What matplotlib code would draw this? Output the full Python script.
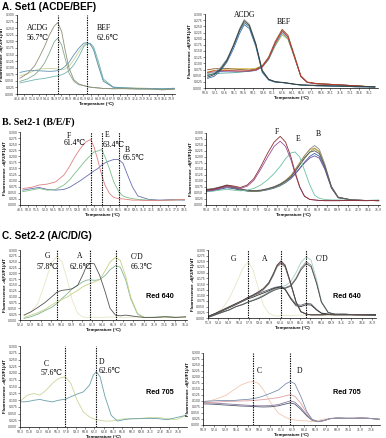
import numpy as np
import matplotlib
matplotlib.use("Agg")
import matplotlib.pyplot as plt

# ---------------- data ----------------
# Panel A (Set1 ACDE/BEF), left: representative curves
tA_left = [49, 50.5, 52, 53, 54, 55, 56, 56.7, 57.5, 58.2, 59, 60, 61, 62, 62.6,
           63.3, 64, 65, 66, 68, 70, 73, 76, 78, 80.5]
aL_acdg1 = [0.060, 0.077, 0.107, 0.142, 0.180, 0.224, 0.258, 0.271, 0.237, 0.168, 0.098, 0.054, 0.038,
            0.032, 0.029, 0.026, 0.025, 0.023, 0.021, 0.020, 0.021, 0.019, 0.019, 0.016, 0.019]
aL_acdg2 = [0.048, 0.057, 0.073, 0.092, 0.117, 0.155, 0.199, 0.212, 0.186, 0.136, 0.079, 0.048, 0.035,
            0.032, 0.029, 0.026, 0.024, 0.023, 0.021, 0.020, 0.020, 0.019, 0.018, 0.016, 0.018]
aL_bef1 = [0.082, 0.088, 0.089, 0.088, 0.087, 0.086, 0.087, 0.089, 0.095, 0.105, 0.120, 0.149, 0.174,
           0.193, 0.195, 0.190, 0.168, 0.105, 0.048, 0.026, 0.023, 0.021, 0.020, 0.019, 0.021]
aL_bef2 = [0.042, 0.048, 0.054, 0.057, 0.059, 0.063, 0.067, 0.069, 0.073, 0.079, 0.089, 0.111, 0.142,
           0.180, 0.190, 0.193, 0.180, 0.123, 0.057, 0.026, 0.024, 0.021, 0.021, 0.020, 0.022]
aL_bef3 = [0.069, 0.077, 0.089, 0.095, 0.096, 0.097, 0.096, 0.095, 0.092, 0.095, 0.105, 0.130, 0.161,
           0.186, 0.193, 0.189, 0.170, 0.111, 0.052, 0.025, 0.023, 0.023, 0.021, 0.020, 0.021]
aL_tm = [56.7, 62.6]

# Panel A, right: all replicates
tA_right = [51, 52, 53, 54, 55, 56, 56.7, 57.5, 58.5, 59.5, 60.5, 61.5, 62.6, 63.5, 64.5,
            65.5, 66.5, 68, 70, 72, 74, 77]
aR_acdg1 = [0.050, 0.058, 0.078, 0.114, 0.168, 0.233, 0.265, 0.249, 0.175, 0.067, 0.034, 0.024, 0.022,
            0.019, 0.015, 0.012, 0.011, 0.009, 0.008, 0.007, 0.005, 0.004]
aR_acdg2 = [0.044, 0.054, 0.074, 0.110, 0.171, 0.238, 0.273, 0.254, 0.179, 0.071, 0.035, 0.026, 0.023,
            0.020, 0.016, 0.013, 0.012, 0.011, 0.009, 0.008, 0.007, 0.005]
aR_acdg3 = [0.058, 0.065, 0.083, 0.117, 0.175, 0.242, 0.278, 0.260, 0.182, 0.074, 0.036, 0.026, 0.022,
            0.019, 0.015, 0.012, 0.011, 0.009, 0.008, 0.007, 0.005, 0.004]
aR_acdg4 = [0.039, 0.047, 0.069, 0.104, 0.157, 0.222, 0.257, 0.241, 0.168, 0.063, 0.032, 0.024, 0.022,
            0.019, 0.015, 0.012, 0.011, 0.009, 0.008, 0.007, 0.005, 0.004]
aR_bef1 = [0.063, 0.070, 0.071, 0.071, 0.070, 0.069, 0.069, 0.070, 0.074, 0.087, 0.121, 0.182, 0.233,
           0.208, 0.128, 0.047, 0.023, 0.017, 0.015, 0.012, 0.009, 0.004]
aR_bef2 = [0.074, 0.078, 0.079, 0.079, 0.077, 0.075, 0.074, 0.073, 0.077, 0.090, 0.126, 0.188, 0.238,
           0.214, 0.133, 0.050, 0.024, 0.018, 0.015, 0.012, 0.009, 0.004]
aR_bef3 = [0.054, 0.058, 0.060, 0.061, 0.062, 0.064, 0.066, 0.068, 0.072, 0.084, 0.115, 0.172, 0.222,
           0.200, 0.124, 0.047, 0.023, 0.017, 0.015, 0.012, 0.009, 0.004]
aR_bef4 = [0.067, 0.070, 0.073, 0.076, 0.078, 0.079, 0.079, 0.078, 0.080, 0.090, 0.118, 0.170, 0.215,
           0.197, 0.125, 0.048, 0.024, 0.018, 0.015, 0.012, 0.009, 0.004]
aR_bef5 = [0.060, 0.065, 0.067, 0.068, 0.068, 0.068, 0.068, 0.068, 0.071, 0.085, 0.120, 0.180, 0.229,
           0.206, 0.128, 0.046, 0.022, 0.017, 0.015, 0.012, 0.009, 0.004]

# Panel B (Set2-1 B/E/F), left
tB_left = [49, 50.5, 52, 53.5, 55, 56.5, 57.5, 58.5, 59.5, 60.5, 61.4, 62, 62.7, 63.4, 64,
           64.8, 65.6, 66.5, 67.3, 68, 69, 70, 72, 74, 76, 78.5]
bL_f = [0.068, 0.072, 0.082, 0.086, 0.095, 0.123, 0.157, 0.198, 0.232, 0.259, 0.269, 0.239, 0.184,
        0.123, 0.082, 0.048, 0.031, 0.026, 0.025, 0.023, 0.020, 0.020, 0.018, 0.019, 0.020, 0.023]
bL_e = [0.055, 0.061, 0.068, 0.061, 0.064, 0.082, 0.102, 0.130, 0.157, 0.184, 0.205, 0.218, 0.222,
        0.228, 0.198, 0.150, 0.095, 0.055, 0.037, 0.031, 0.026, 0.023, 0.020, 0.019, 0.020, 0.022]
bL_b = [0.061, 0.067, 0.072, 0.064, 0.061, 0.064, 0.072, 0.086, 0.100, 0.116, 0.130, 0.140, 0.150,
        0.164, 0.173, 0.181, 0.187, 0.187, 0.171, 0.130, 0.075, 0.037, 0.023, 0.020, 0.022, 0.020]
bL_tm = [61.4, 63.4, 66.5]

# Panel B, right
tB_right = [50.5, 51.5, 52.5, 53.5, 54.5, 55.5, 56.5, 57.5, 58.5, 59.5, 60.5, 61.4, 62.2, 63, 63.6,
            64.3, 65, 65.8, 66.5, 67.2, 68, 69, 70, 72, 74, 76]
bR_f1 = [0.062, 0.066, 0.073, 0.083, 0.079, 0.073, 0.083, 0.110, 0.159, 0.214, 0.262, 0.286, 0.262,
         0.200, 0.138, 0.076, 0.037, 0.023, 0.021, 0.019, 0.018, 0.018, 0.018, 0.019, 0.018, 0.019]
bR_f2 = [0.058, 0.062, 0.069, 0.079, 0.075, 0.069, 0.078, 0.103, 0.148, 0.198, 0.244, 0.266, 0.244,
         0.188, 0.131, 0.073, 0.036, 0.023, 0.021, 0.019, 0.018, 0.018, 0.018, 0.019, 0.018, 0.019]
bR_e = [0.055, 0.058, 0.062, 0.065, 0.062, 0.059, 0.062, 0.069, 0.083, 0.104, 0.131, 0.161, 0.193,
        0.217, 0.221, 0.200, 0.145, 0.083, 0.041, 0.028, 0.023, 0.021, 0.021, 0.019, 0.019, 0.021]
bR_b1 = [0.062, 0.066, 0.073, 0.079, 0.073, 0.065, 0.059, 0.057, 0.059, 0.065, 0.073, 0.083, 0.097,
         0.117, 0.138, 0.166, 0.193, 0.221, 0.235, 0.221, 0.166, 0.076, 0.032, 0.021, 0.019, 0.018]
bR_b2 = [0.066, 0.069, 0.076, 0.083, 0.076, 0.068, 0.062, 0.060, 0.062, 0.068, 0.077, 0.088, 0.102,
         0.122, 0.145, 0.175, 0.204, 0.233, 0.248, 0.232, 0.172, 0.078, 0.033, 0.021, 0.019, 0.018]
bR_b3 = [0.056, 0.060, 0.066, 0.072, 0.068, 0.062, 0.058, 0.056, 0.058, 0.063, 0.070, 0.080, 0.093,
         0.110, 0.128, 0.153, 0.178, 0.203, 0.215, 0.203, 0.155, 0.072, 0.031, 0.021, 0.019, 0.018]
bR_b4 = [0.060, 0.063, 0.070, 0.077, 0.071, 0.064, 0.060, 0.058, 0.060, 0.066, 0.074, 0.085, 0.098,
         0.114, 0.130, 0.152, 0.175, 0.196, 0.205, 0.195, 0.150, 0.070, 0.030, 0.021, 0.019, 0.018]
bR_b5 = [0.064, 0.067, 0.074, 0.081, 0.074, 0.067, 0.061, 0.059, 0.061, 0.067, 0.075, 0.086, 0.100,
         0.118, 0.140, 0.168, 0.196, 0.220, 0.226, 0.214, 0.162, 0.075, 0.032, 0.021, 0.019, 0.018]
bR_b6 = [0.058, 0.061, 0.068, 0.074, 0.069, 0.063, 0.059, 0.057, 0.060, 0.066, 0.075, 0.087, 0.103,
         0.124, 0.148, 0.177, 0.206, 0.230, 0.238, 0.222, 0.165, 0.074, 0.031, 0.021, 0.019, 0.018]

# Panel C (Set2-2 A/C/D/G), Red 640, left
tC_left = [53, 54, 55, 56, 57, 57.8, 58.5, 59.3, 60, 60.8, 61.5, 62, 62.6, 63.2, 64, 64.8, 65.5,
           66.3, 67, 67.8, 68.5, 69.5, 70.5, 72, 73.5, 75, 76.5]
cL_g = [0.021, 0.035, 0.071, 0.156, 0.248, 0.272, 0.250, 0.170, 0.085, 0.028, 0.014, 0.011, 0.012,
        0.012, 0.011, 0.012, 0.013, 0.012, 0.012, 0.011, 0.012, 0.013, 0.012, 0.011, 0.012, 0.011, 0.012]
cL_a = [0.021, 0.035, 0.054, 0.074, 0.099, 0.120, 0.127, 0.130, 0.134, 0.149, 0.191, 0.226, 0.243,
        0.241, 0.191, 0.120, 0.050, 0.021, 0.018, 0.021, 0.018, 0.014, 0.011, 0.011, 0.014, 0.011, 0.014]
cL_cd1 = [0.011, 0.021, 0.031, 0.045, 0.064, 0.078, 0.088, 0.099, 0.113, 0.127, 0.142, 0.149, 0.156,
          0.163, 0.173, 0.212, 0.248, 0.269, 0.255, 0.184, 0.099, 0.028, 0.011, 0.011, 0.014, 0.011, 0.011]
cL_cd2 = [0.007, 0.014, 0.025, 0.040, 0.054, 0.071, 0.092, 0.113, 0.134, 0.149, 0.163, 0.170, 0.173,
          0.170, 0.173, 0.191, 0.215, 0.233, 0.226, 0.170, 0.092, 0.025, 0.011, 0.012, 0.014, 0.012, 0.011]
cL_tm = [57.8, 62.6, 66.3]

# Panel C, Red 640, right
tC_right = [52, 53, 54, 55, 56, 57, 57.8, 58.5, 59.3, 60, 60.8, 61.5, 62, 62.6, 63.2, 64, 64.8,
            65.5, 66.3, 67, 67.8, 68.5, 69.5, 70.5, 72, 73.5, 75, 76.5]
cR_g = [0.007, 0.021, 0.042, 0.085, 0.149, 0.219, 0.248, 0.212, 0.127, 0.057, 0.021, 0.011, 0.008,
        0.011, 0.011, 0.011, 0.012, 0.013, 0.012, 0.011, 0.012, 0.011, 0.012, 0.011, 0.012, 0.011, 0.012, 0.011]
cR_a1 = [0.007, 0.021, 0.035, 0.050, 0.064, 0.078, 0.092, 0.102, 0.116, 0.130, 0.156, 0.198, 0.233,
         0.252, 0.233, 0.156, 0.071, 0.028, 0.017, 0.014, 0.014, 0.014, 0.015, 0.014, 0.015, 0.014, 0.014, 0.015]
cR_a2 = [0.006, 0.019, 0.033, 0.047, 0.061, 0.075, 0.088, 0.098, 0.111, 0.124, 0.150, 0.190, 0.225,
         0.241, 0.224, 0.150, 0.068, 0.027, 0.017, 0.014, 0.014, 0.014, 0.015, 0.014, 0.015, 0.014, 0.014, 0.015]
cR_a3 = [0.007, 0.020, 0.034, 0.048, 0.062, 0.076, 0.090, 0.100, 0.113, 0.127, 0.153, 0.194, 0.229,
         0.245, 0.228, 0.152, 0.070, 0.028, 0.017, 0.014, 0.014, 0.014, 0.015, 0.014, 0.015, 0.014, 0.014, 0.015]
cR_low1 = [0.007, 0.018, 0.031, 0.045, 0.059, 0.074, 0.085, 0.092, 0.102, 0.110, 0.120, 0.130, 0.134,
           0.137, 0.125, 0.085, 0.054, 0.050, 0.059, 0.057, 0.035, 0.021, 0.017, 0.015, 0.014, 0.015, 0.014, 0.015]
cR_low2 = [0.009, 0.020, 0.033, 0.047, 0.062, 0.078, 0.090, 0.098, 0.108, 0.116, 0.125, 0.133, 0.137,
           0.139, 0.128, 0.090, 0.060, 0.056, 0.065, 0.062, 0.038, 0.022, 0.017, 0.015, 0.014, 0.015, 0.014, 0.015]
cR_cd1 = [0.003, 0.014, 0.025, 0.035, 0.050, 0.059, 0.071, 0.078, 0.088, 0.099, 0.113, 0.125, 0.130,
          0.134, 0.134, 0.144, 0.177, 0.219, 0.248, 0.233, 0.156, 0.071, 0.024, 0.017, 0.017, 0.014, 0.014, 0.011]
cR_cd2 = [0.004, 0.015, 0.026, 0.036, 0.050, 0.060, 0.070, 0.077, 0.086, 0.096, 0.110, 0.121, 0.127,
          0.131, 0.131, 0.140, 0.172, 0.212, 0.240, 0.226, 0.152, 0.070, 0.024, 0.017, 0.017, 0.014, 0.014, 0.011]
cR_cd3 = [0.004, 0.014, 0.025, 0.036, 0.050, 0.062, 0.072, 0.080, 0.090, 0.100, 0.115, 0.128, 0.135,
          0.140, 0.142, 0.160, 0.200, 0.245, 0.270, 0.255, 0.170, 0.075, 0.025, 0.017, 0.017, 0.014, 0.014, 0.011]
cR_tm = [57.8, 62.6, 66.3]

# Panel C, Red 705, left
tD_left = [50.5, 51.5, 52.5, 53.5, 54.5, 55.5, 56.5, 57.6, 58.5, 59.5, 60.5, 61.5, 62.1, 62.6, 63.2,
           64, 65, 66, 67, 68, 69.5, 71, 72.5, 74, 75.5, 77]
dL_c = [0.099, 0.118, 0.124, 0.118, 0.136, 0.161, 0.180, 0.186, 0.161, 0.099, 0.056, 0.037, 0.031,
        0.027, 0.025, 0.022, 0.022, 0.027, 0.030, 0.031, 0.031, 0.035, 0.035, 0.031, 0.027, 0.043]
dL_d = [0.093, 0.094, 0.099, 0.102, 0.097, 0.093, 0.099, 0.103, 0.112, 0.122, 0.130, 0.155, 0.192,
        0.205, 0.186, 0.112, 0.043, 0.022, 0.027, 0.030, 0.031, 0.032, 0.031, 0.027, 0.035, 0.043]
dL_tm = [57.6, 62.6]

# Panel C, Red 705, right
tD_right = [51, 52, 53, 54, 55, 56, 57, 57.6, 58.3, 59, 60, 61, 62, 62.6, 63.2, 64, 64.8, 65.5,
            66.3, 67, 68, 69, 70, 71, 72, 73, 74.5]
dR_c = [0.098, 0.102, 0.112, 0.124, 0.146, 0.167, 0.179, 0.181, 0.174, 0.146, 0.091, 0.049, 0.031,
        0.024, 0.021, 0.018, 0.017, 0.014, 0.018, 0.024, 0.028, 0.028, 0.027, 0.027, 0.029, 0.028, 0.024]
dR_d1 = [0.098, 0.100, 0.102, 0.102, 0.102, 0.105, 0.107, 0.110, 0.114, 0.121, 0.133, 0.146, 0.172,
         0.181, 0.172, 0.119, 0.056, 0.024, 0.014, 0.018, 0.027, 0.029, 0.028, 0.028, 0.029, 0.028, 0.024]
dR_d2 = [0.091, 0.094, 0.096, 0.098, 0.099, 0.100, 0.101, 0.102, 0.104, 0.106, 0.110, 0.114, 0.122,
         0.126, 0.120, 0.090, 0.050, 0.023, 0.014, 0.018, 0.027, 0.029, 0.028, 0.028, 0.029, 0.028, 0.024]
dR_d3 = [0.093, 0.092, 0.090, 0.088, 0.086, 0.084, 0.082, 0.081, 0.080, 0.080, 0.081, 0.085, 0.095,
         0.100, 0.095, 0.072, 0.042, 0.020, 0.014, 0.018, 0.027, 0.029, 0.028, 0.028, 0.029, 0.028, 0.024]
dR_d4 = [0.088, 0.087, 0.085, 0.083, 0.081, 0.079, 0.078, 0.077, 0.076, 0.075, 0.076, 0.080, 0.088,
         0.092, 0.087, 0.065, 0.038, 0.020, 0.014, 0.018, 0.027, 0.029, 0.028, 0.028, 0.029, 0.028, 0.024]
dR_tm = [57.6, 62.6]

# ---------------- drawing ----------------
W, H = 386, 438
SERIF = ['Liberation Serif', 'DejaVu Serif', 'DejaVu Sans']
SANS = ['Liberation Sans', 'DejaVu Sans']
YLAB = "Fluorescence -d(F2/F1)/dT"

fig = plt.figure(figsize=(W / 100, H / 100), dpi=100)


def box(x0, y0, x1, y1):
    return [x0 / W, 1 - y1 / H, (x1 - x0) / W, (y1 - y0) / H]


def txt(x, y, s, **kw):
    fig.text(x / W, 1 - y / H, s, va='center', **kw)


def panel(rect, xlim, t, curves, tms=()):
    ax = fig.add_axes(box(*rect))
    for y, c in curves:
        ax.plot(t, y, color=c, lw=0.6)
    for tm in tms:
        ax.axvline(tm, color='black', ls=(0, (1.2, 1.0)), lw=0.8)
    ax.set_xlim(*xlim)
    ax.set_ylim(0, 0.30)
    ax.set_xticks(np.arange(xlim[0], xlim[1] + 0.01, 1.5))
    ax.xaxis.set_major_formatter('{x:.1f}')
    ax.set_yticks(np.arange(0, 0.301, 0.025))
    ax.yaxis.set_major_formatter('{x:.3f}')
    ax.tick_params(labelsize=2.2, length=1.2, width=0.4, pad=0.8, colors='#333333')
    for s in ['top', 'right']:
        ax.spines[s].set_visible(False)
    for s in ['left', 'bottom']:
        ax.spines[s].set_linewidth(0.5)
    ax.set_ylabel(YLAB, fontsize=3.2, fontweight='bold', labelpad=1, family=SANS)
    ax.set_xlabel("Temperature (°C)", fontsize=3.2, fontweight='bold', labelpad=1.2, family=SANS)
    ax.patch.set_alpha(0)
    return ax


# A. Set1
txt(2, 7, "A. Set1 (ACDE/BEF)", fontsize=7.2, fontweight='bold', family=SANS)
panel((17, 15, 175, 94), (48.4, 80.6), tA_left,
      [(aL_bef3, '#c9cf9a'), (aL_bef2, '#6fb5b2'), (aL_bef1, '#5d93b5'),
       (aL_acdg2, '#86a88e'), (aL_acdg1, '#8f8f78')], aL_tm)
txt(27, 28, "ACDG", fontsize=5.5, family=SERIF)
txt(27, 38, "56.7℃", fontsize=5.5, family=SERIF)
txt(97, 28, "BEF", fontsize=5.5, family=SERIF)
txt(97, 38, "62.6℃", fontsize=5.5, family=SERIF)

panel((205, 14, 378, 88), (50.6, 77.5), tA_right,
      [(aR_bef4, '#d4c04a'), (aR_bef3, '#4aa3a0'), (aR_bef5, '#7d5ba6'),
       (aR_bef2, '#8b5a2b'), (aR_bef1, '#c0392b'),
       (aR_acdg3, '#b0b0b0'), (aR_acdg4, '#3b6fb0'), (aR_acdg1, '#2f6f6a'),
       (aR_acdg2, '#3a3a3a')])
txt(234, 15, "ACDG", fontsize=5.5, family=SERIF)
txt(277, 22, "BEF", fontsize=5.5, family=SERIF)

# B. Set2-1
txt(2, 122, "B. Set2-1 (B/E/F)", fontsize=7.2, fontweight='bold', family=SERIF)
panel((20, 132, 185, 205), (48.5, 78.6), tB_left,
      [(bL_b, '#6a6fb0'), (bL_e, '#7cc08a'), (bL_f, '#e08080')], bL_tm)
txt(67, 136, "F", fontsize=5.5, family=SERIF)
txt(64, 143, "61.4℃", fontsize=5.5, family=SERIF)
txt(105, 135, "E", fontsize=5.5, family=SERIF)
txt(103, 145, "63.4℃", fontsize=5.5, family=SERIF)
txt(125, 150, "B", fontsize=5.5, family=SERIF)
txt(123, 158, "66.5℃", fontsize=5.5, family=SERIF)

panel((206, 133, 380, 205), (50.4, 76.2), tB_right,
      [(bR_b6, '#d9a441'), (bR_b3, '#3b5fa8'), (bR_b4, '#6b4fa0'), (bR_b1, '#8e9a3a'),
       (bR_b2, '#8a8a8a'), (bR_b5, '#555555'), (bR_e, '#6cc0a0'),
       (bR_f2, '#9b4f9b'), (bR_f1, '#8b2e2e')])
txt(275, 132, "F", fontsize=5.5, family=SERIF)
txt(296, 139, "E", fontsize=5.5, family=SERIF)
txt(316, 134, "B", fontsize=5.5, family=SERIF)

# C. Set2-2
txt(2, 236, "C. Set2-2 (A/C/D/G)", fontsize=7.2, fontweight='bold', family=SANS)
panel((20, 250, 187, 320), (52.4, 76.7), tC_left,
      [(cL_g, '#e6e6c4'), (cL_cd2, '#7fb59a'), (cL_cd1, '#c8d080'), (cL_a, '#555555')], cL_tm)
txt(45, 256, "G", fontsize=5.5, family=SERIF)
txt(37, 267, "57.8℃", fontsize=5.5, family=SERIF)
txt(77, 256, "A", fontsize=5.5, family=SERIF)
txt(70, 267, "62.6℃", fontsize=5.5, family=SERIF)
txt(131, 257, "C/D", fontsize=5.5, family=SERIF)
txt(131, 267, "66.3℃", fontsize=5.5, family=SERIF)
txt(146, 297, "Red 640", fontsize=5.2, fontweight='bold', family=SANS)

panel((208, 250, 376, 318), (51.9, 76.5), tC_right,
      [(cR_g, '#e6e6c8'), (cR_cd3, '#a8d0c8'), (cR_cd1, '#8a8a8a'), (cR_cd2, '#505050'),
       (cR_low2, '#5a6070'), (cR_low1, '#333333'),
       (cR_a3, '#a05050'), (cR_a2, '#777777'), (cR_a1, '#444444')], cR_tm)
txt(231, 259, "G", fontsize=5.5, family=SERIF)
txt(262, 259, "A", fontsize=5.5, family=SERIF)
txt(316, 259, "C/D", fontsize=5.5, family=SERIF)
txt(333, 297, "Red 640", fontsize=5.2, fontweight='bold', family=SANS)

panel((20, 346, 187, 427), (50.3, 77.2), tD_left,
      [(dL_c, '#c8d898'), (dL_d, '#6aa0a8')], dL_tm)
txt(44, 364, "C", fontsize=5.5, family=SERIF)
txt(41, 373, "57.6℃", fontsize=5.5, family=SERIF)
txt(99, 362, "D", fontsize=5.5, family=SERIF)
txt(99, 371, "62.6℃", fontsize=5.5, family=SERIF)
txt(146, 392, "Red 705", fontsize=5.2, fontweight='bold', family=SANS)

panel((203, 353, 380, 425), (50.9, 74.6), tD_right,
      [(dR_c, '#f0c8b0'), (dR_d4, '#505a70'), (dR_d3, '#8a7a9a'),
       (dR_d2, '#e0a0a0'), (dR_d1, '#7a90b0')], dR_tm)
txt(257, 371, "C", fontsize=5.5, family=SERIF)
txt(297, 371, "D", fontsize=5.5, family=SERIF)
txt(333, 392, "Red 705", fontsize=5.2, fontweight='bold', family=SANS)

fig.savefig("out.png", dpi=100)
